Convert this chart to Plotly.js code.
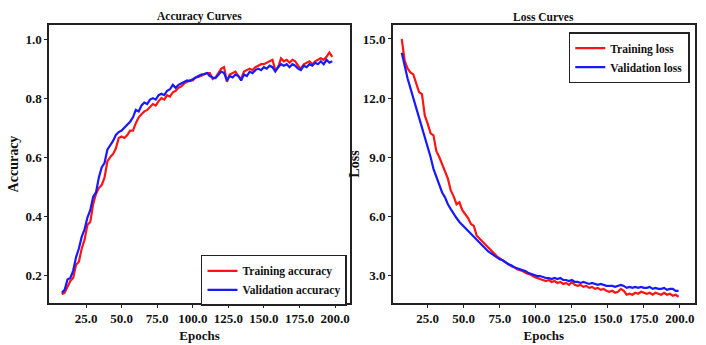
<!DOCTYPE html>
<html>
<head>
<meta charset="utf-8">
<script src="https://cdn.plot.ly/plotly-3.0.1.min.js"></script>
<style>html,body{margin:0;padding:0;background:#fff;}#chart{width:706px;height:345px;}</style>
</head>
<body>
<div id="chart"></div>
<script>
// Accuracy curves (every 2 epochs)
const accEpochs = [8,10,12,14,16,18,20,22,24,26,28,30,32,34,36,38,40,42,44,46,48,50,52,54,56,58,60,62,64,66,68,70,72,74,76,78,80,82,84,86,88,90,92,94,96,98,100,102,104,106,108,110,112,114,116,118,120,122,124,126,128,130,132,134,136,138,140,142,144,146,148,150,152,154,156,158,160,162,164,166,168,170,172,174,176,178,180,182,184,186,188,190,192,194,196,198];
const trainAcc = [0.135,0.14,0.16,0.18,0.19,0.235,0.245,0.29,0.32,0.37,0.38,0.44,0.475,0.495,0.505,0.53,0.585,0.60,0.61,0.63,0.665,0.67,0.665,0.675,0.69,0.69,0.715,0.735,0.745,0.755,0.76,0.77,0.78,0.775,0.79,0.80,0.795,0.81,0.805,0.82,0.825,0.835,0.84,0.85,0.855,0.86,0.86,0.87,0.872,0.875,0.88,0.885,0.885,0.865,0.87,0.885,0.90,0.905,0.855,0.88,0.885,0.89,0.875,0.865,0.89,0.895,0.90,0.895,0.905,0.91,0.915,0.915,0.92,0.925,0.93,0.895,0.905,0.935,0.925,0.93,0.92,0.93,0.925,0.91,0.90,0.915,0.92,0.925,0.915,0.925,0.93,0.935,0.93,0.94,0.955,0.94];
const valAcc = [0.14,0.15,0.185,0.19,0.215,0.26,0.29,0.33,0.355,0.395,0.42,0.465,0.48,0.53,0.565,0.58,0.625,0.64,0.655,0.675,0.685,0.69,0.70,0.71,0.72,0.735,0.76,0.755,0.775,0.785,0.78,0.795,0.80,0.795,0.81,0.815,0.81,0.825,0.83,0.845,0.835,0.845,0.85,0.855,0.86,0.858,0.865,0.87,0.875,0.88,0.882,0.885,0.875,0.87,0.868,0.88,0.89,0.885,0.86,0.875,0.87,0.88,0.875,0.86,0.88,0.875,0.89,0.885,0.895,0.90,0.895,0.905,0.90,0.91,0.905,0.89,0.905,0.915,0.91,0.915,0.905,0.915,0.91,0.90,0.895,0.91,0.905,0.915,0.91,0.92,0.915,0.925,0.915,0.93,0.92,0.925];

// Loss curves (every 2 epochs)
const lossEpochs = [7,9,11,13,15,17,19,21,23,25,27,29,31,33,35,37,39,41,43,45,47,49,51,53,55,57,59,61,63,65,67,69,71,73,75,77,79,81,83,85,87,89,91,93,95,97,99,101,103,105,107,109,111,113,115,117,119,121,123,125,127,129,131,133,135,137,139,141,143,145,147,149,151,153,155,157,159,161,163,165,167,169,171,173,175,177,179,181,183,185,187,189,191,193,195,197,199];
const trainLoss = [15.0,13.9,13.5,13.3,13.2,12.7,12.3,12.2,11.1,10.7,10.2,10.1,9.3,9.0,8.6,8.2,7.9,7.3,7.0,6.6,6.7,6.3,6.1,5.9,5.6,5.5,5.0,4.85,4.7,4.5,4.35,4.2,4.05,3.95,3.85,3.75,3.65,3.55,3.45,3.4,3.3,3.25,3.2,3.1,3.05,3.0,2.9,2.85,2.8,2.75,2.7,2.75,2.65,2.7,2.6,2.65,2.55,2.6,2.5,2.65,2.5,2.45,2.5,2.4,2.45,2.35,2.4,2.3,2.35,2.25,2.3,2.2,2.15,2.2,2.1,2.15,2.3,2.2,2.0,2.05,2.0,2.1,2.05,2.15,2.1,2.05,2.1,2.0,2.1,2.05,2.0,2.1,2.0,2.05,1.95,2.0,1.9];
const valLoss = [14.3,13.6,13.0,12.5,12.0,11.5,11.0,10.6,10.1,9.6,9.0,8.4,8.0,7.6,7.2,6.95,6.6,6.35,6.1,5.9,5.7,5.55,5.4,5.25,5.1,4.95,4.75,4.6,4.45,4.35,4.2,4.1,4.0,3.9,3.8,3.75,3.65,3.55,3.5,3.4,3.35,3.3,3.25,3.2,3.1,3.05,3.0,2.95,2.95,2.9,2.85,2.85,2.8,2.85,2.8,2.85,2.75,2.75,2.7,2.75,2.65,2.65,2.6,2.65,2.6,2.55,2.6,2.55,2.5,2.55,2.5,2.45,2.45,2.45,2.4,2.45,2.5,2.45,2.35,2.4,2.35,2.4,2.35,2.4,2.35,2.35,2.4,2.3,2.35,2.3,2.3,2.35,2.25,2.3,2.3,2.2,2.2];

const xTicks = [25,50,75,100,125,150,175,200];
const accTicks = [0.2,0.4,0.6,0.8,1.0];
const lossTicks = [3,6,9,12,15];

const FONT = '"Liberation Serif", "Times New Roman", serif';
const RED = 'rgb(255,20,20)', BLUE = 'rgb(25,25,255)';

const traces = [
  {x: accEpochs, y: trainAcc, name: 'Training accuracy', type: 'scatter', mode: 'lines',
   line: {color: RED, width: 2.2}, xaxis: 'x', yaxis: 'y', legend: 'legend'},
  {x: accEpochs, y: valAcc, name: 'Validation accuracy', type: 'scatter', mode: 'lines',
   line: {color: BLUE, width: 2.2}, xaxis: 'x', yaxis: 'y', legend: 'legend'},
  {x: lossEpochs, y: trainLoss, name: 'Training loss', type: 'scatter', mode: 'lines',
   line: {color: RED, width: 2.2}, xaxis: 'x2', yaxis: 'y2', legend: 'legend2'},
  {x: lossEpochs, y: valLoss, name: 'Validation loss', type: 'scatter', mode: 'lines',
   line: {color: BLUE, width: 2.2}, xaxis: 'x2', yaxis: 'y2', legend: 'legend2'}
];

const tickFont = {family: FONT, size: 13, color: '#111', weight: 'bold'};
const titleFont = {family: FONT, size: 13, color: '#111', weight: 'bold'};
const legendFont = {family: FONT, size: 11.5, color: '#111', weight: 'bold'};
function axisBase() {
  return {showline: true, mirror: true, linecolor: '#222', linewidth: 1.6,
    showgrid: false, zeroline: false, ticks: 'outside', ticklen: 3, tickwidth: 1,
    tickcolor: '#222', tickfont: tickFont, tickformat: '.1f'};
}

const layout = {
  width: 706, height: 345,
  margin: {l: 0, r: 0, t: 0, b: 0},
  paper_bgcolor: '#fff', plot_bgcolor: '#fff',
  font: {family: FONT, color: '#111'},
  xaxis: Object.assign(axisBase(), {domain: [0.0694, 0.4958], range: [-1, 210.5],
    tickvals: xTicks, anchor: 'y', title: {text: 'Epochs', font: titleFont, standoff: 5}}),
  yaxis: Object.assign(axisBase(), {domain: [0.1217, 0.9275], range: [0.105, 1.048],
    tickvals: accTicks, anchor: 'x', title: {text: 'Accuracy', font: {family: FONT, size: 14, color: '#111', weight: 'bold'}, standoff: 3}}),
  xaxis2: Object.assign(axisBase(), {domain: [0.5562, 0.9844], range: [0.7, 210.4],
    tickvals: xTicks, anchor: 'y2', title: {text: 'Epochs', font: titleFont, standoff: 5}}),
  yaxis2: Object.assign(axisBase(), {domain: [0.1217, 0.9275], range: [1.58, 15.71],
    tickvals: lossTicks, anchor: 'x2', title: {text: 'Loss', font: {family: FONT, size: 14, color: '#111', weight: 'bold'}, standoff: 0}}),
  legend: {x: 0.4915, y: 0.261, xanchor: 'right', yanchor: 'top', bgcolor: '#fff',
    bordercolor: '#222', borderwidth: 1.5, font: legendFont, tracegroupgap: 0, itemwidth: 30},
  legend2: {x: 0.977, y: 0.907, xanchor: 'right', yanchor: 'top', bgcolor: '#fff',
    bordercolor: '#222', borderwidth: 1.5, font: legendFont, tracegroupgap: 0, itemwidth: 30},
  annotations: [
    {text: 'Accuracy Curves', x: 0.2826, y: 0.951, xref: 'paper', yref: 'paper',
     xanchor: 'center', yanchor: 'middle', showarrow: false,
     font: {family: FONT, size: 11.5, color: '#111', weight: 'bold'}},
    {text: 'Loss Curves', x: 0.7703, y: 0.951, xref: 'paper', yref: 'paper',
     xanchor: 'center', yanchor: 'middle', showarrow: false,
     font: {family: FONT, size: 11.5, color: '#111', weight: 'bold'}}
  ],
  showlegend: true
};

Plotly.newPlot('chart', traces, layout, {displayModeBar: false, staticPlot: true});
</script>
</body>
</html>
